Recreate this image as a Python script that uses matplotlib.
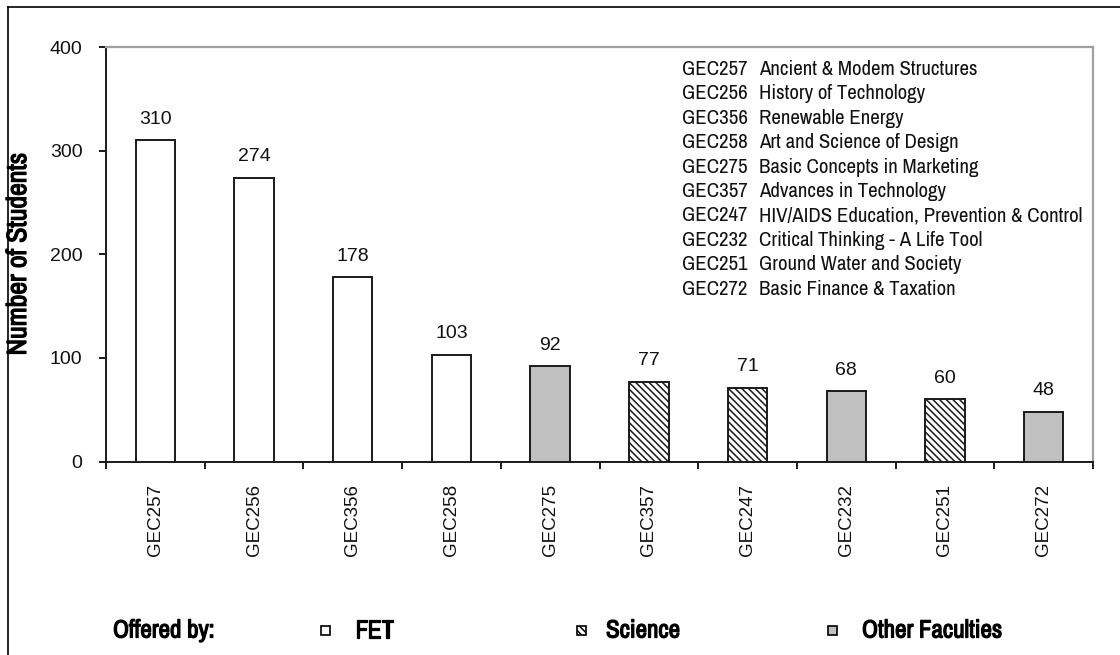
import matplotlib
matplotlib.use("Agg")
import matplotlib.pyplot as plt
from matplotlib import font_manager
from matplotlib import patheffects
from matplotlib.patches import Rectangle
from matplotlib.lines import Line2D
import numpy as np

# Курси загальної освіти та кількість студентів
courses = ["GEC257", "GEC256", "GEC356", "GEC258", "GEC275",
           "GEC357", "GEC247", "GEC232", "GEC251", "GEC272"]
students = [310, 274, 178, 103, 92, 77, 71, 68, 60, 48]
faculty = ["FET", "FET", "FET", "FET", "Other",
           "Science", "Science", "Other", "Science", "Other"]
titles = ["Ancient & Modem Structures",
          "History of Technology",
          "Renewable Energy",
          "Art and Science of Design",
          "Basic Concepts in Marketing",
          "Advances in Technology",
          "HIV/AIDS Education, Prevention & Control",
          "Critical Thinking - A Life Tool",
          "Ground Water and Society",
          "Basic Finance & Taxation"]
legend_labels = ["FET", "Science", "Other Faculties"]

# Стиль заливки для кожного факультету
STYLE = {
    "FET": dict(facecolor="white", hatch=None),
    "Science": dict(facecolor="white", hatch="\\\\\\\\\\"),
    "Other": dict(facecolor="#c0c0c0", hatch=None),
}

SANS = ["Liberation Sans", "DejaVu Sans"]

# Вузький шрифт, якщо він є в системі
narrow = dict(family=SANS)
narrow_ok = False
for f in font_manager.fontManager.ttflist:
    if "Narrow" in f.name:
        narrow = dict(family=[f.name] + SANS)
        narrow_ok = True
        break

# Напівжирний вигляд через обведення контуру
BOLD = [patheffects.withStroke(linewidth=0.9, foreground="black")]

plt.rcParams["font.family"] = SANS
plt.rcParams["hatch.linewidth"] = 1.1
plt.rcParams["hatch.color"] = "black"

W, H = 1120, 655
fig = plt.figure(figsize=(W / 100, H / 100), dpi=100)
ax = fig.add_axes([106 / W, 1 - 461.5 / H, (1093 - 106) / W, (461.5 - 47) / H])

x = np.arange(len(courses))
for xi, val, fac in zip(x, students, faculty):
    st = STYLE[fac]
    ax.bar(xi, val, width=0.4, facecolor=st["facecolor"], hatch=st["hatch"],
           edgecolor="#1a1a1a", linewidth=1.4, zorder=3)
    ax.annotate(str(val), (xi, val), xytext=(0, 9), textcoords="offset points",
                ha="center", va="bottom", fontsize=14, color="#111111")

ax.set_xlim(-0.5, len(courses) - 0.5)
ax.set_ylim(0, 400)
ax.set_yticks([0, 100, 200, 300, 400])
ax.set_xticks(x)
ax.set_xticklabels(courses, rotation=90, va="top")
ax.set_xticks(np.arange(len(courses) + 1) - 0.5, minor=True)
ax.tick_params(axis="x", which="major", length=0, pad=16, labelsize=13.5,
               colors="#111111")
ax.tick_params(axis="x", which="minor", length=5, width=1.4, direction="out",
               color="#1a1a1a")
ax.tick_params(axis="y", length=5, width=1.4, direction="out", pad=12,
               labelsize=14, color="#1a1a1a", labelcolor="#111111")

for side in ["left", "bottom"]:
    ax.spines[side].set_color("#1a1a1a")
    ax.spines[side].set_linewidth(1.4)
for side in ["top", "right"]:
    ax.spines[side].set_color("#a0a0a0")
    ax.spines[side].set_linewidth(1.6)

lab_size = 20 if narrow_ok else 13.5
ax.set_ylabel("Number of Students", fontsize=lab_size, fontweight="bold",
              labelpad=0, path_effects=BOLD, **narrow)
ax.yaxis.set_label_coords((31 - 106) / (1093 - 106), 0.5)

# Перелік назв курсів у правому верхньому куті
list_size = 15 if narrow_ok else 12.5
for i, (code, title) in enumerate(zip(courses, titles)):
    yb = 1 - (75 + 24.4 * i) / H
    fig.text(682 / W, yb, code, fontsize=list_size, va="baseline",
             color="#111111", **narrow)
    fig.text(759 / W, yb, title, fontsize=list_size, va="baseline",
             color="#111111", **narrow)

# Легенда факультетів унизу
ly = 1 - 630 / H
leg_size = 18 if narrow_ok else 13
fig.text(113 / W, ly, "Offered by:", fontsize=leg_size, fontweight="bold",
         va="center", path_effects=BOLD, **narrow)
sq = 9
for fac, label, sx, tx in zip(["FET", "Science", "Other"], legend_labels,
                              [321, 577, 828], [355, 606, 862]):
    st = STYLE[fac]
    fig.add_artist(Rectangle((sx / W, ly - sq / 2 / H), sq / W, sq / H,
                             transform=fig.transFigure,
                             facecolor=st["facecolor"], hatch=st["hatch"],
                             edgecolor="black", linewidth=1.2))
    fig.text(tx / W, ly, label, fontsize=leg_size, fontweight="bold",
             va="center", path_effects=BOLD, **narrow)

# Рамка навколо рисунка
fig.add_artist(Line2D([8 / W, 8 / W], [0, 1 - 7 / H], transform=fig.transFigure,
                      color="black", linewidth=1.2))
fig.add_artist(Line2D([8 / W, 1], [1 - 7 / H, 1 - 7 / H],
                      transform=fig.transFigure, color="black", linewidth=1.2))

fig.savefig("out.png", dpi=100)
